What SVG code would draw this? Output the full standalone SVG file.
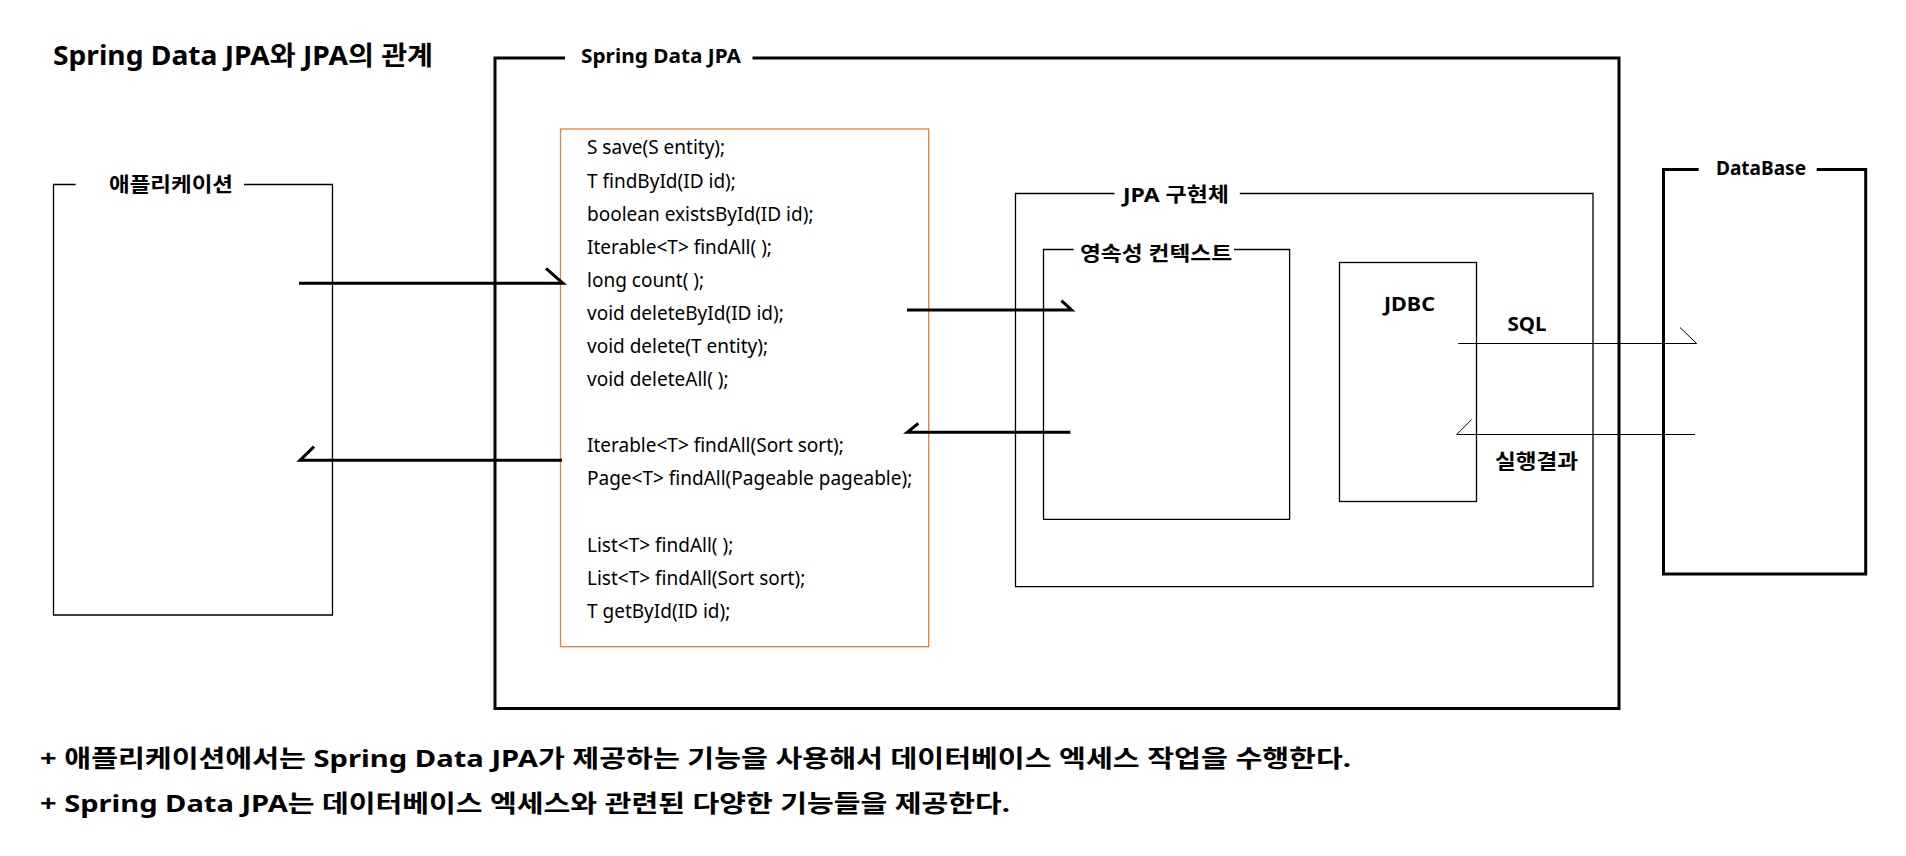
<svg xmlns="http://www.w3.org/2000/svg" width="1906" height="856" viewBox="0 0 1906 856">
<style>
text{font-family:"Noto Sans","Noto Sans CJK KR",sans-serif;fill:#000}
.b{font-weight:bold}
.lbl{font-size:20px;font-weight:bold}
.m{font-size:19px}
.thin{fill:none;stroke:#000;stroke-width:1.3}
.thick{fill:none;stroke:#000;stroke-width:3}
.arr{fill:none;stroke:#000;stroke-width:3}
.arr1{fill:none;stroke:#000;stroke-width:1}
</style>
<rect width="1906" height="856" fill="#fff"/>
<text id="title" x="53" y="65" class="b" font-size="26" textLength="380" lengthAdjust="spacingAndGlyphs">Spring Data JPA와 JPA의 관계</text>

<g id="spring-data-jpa">
<path class="thick" d="M565,58 H495 V708.5 H1619 V58 H752.5"/>
<text x="581" y="63" class="b" font-size="19" textLength="160" lengthAdjust="spacingAndGlyphs">Spring Data JPA</text>
</g>

<g id="application">
<path class="thin" d="M75.7,184.5 H53.5 V615 H332.5 V184.5 H244"/>
<text x="109" y="192" class="lbl" textLength="124" lengthAdjust="spacingAndGlyphs">애플리케이션</text>
</g>

<g id="repository-methods">
<rect x="560.5" y="129" width="368.2" height="517.7" fill="none" stroke="#ED7D31" stroke-width="1.3"/>
<text class="m" x="587" y="154.4">S save(S entity);</text>
<text class="m" x="587" y="187.5">T findById(ID id);</text>
<text class="m" x="587" y="220.6">boolean existsById(ID id);</text>
<text class="m" x="587" y="253.7">Iterable&lt;T&gt; findAll( );</text>
<text class="m" x="587" y="286.8">long count( );</text>
<text class="m" x="587" y="319.9">void deleteById(ID id);</text>
<text class="m" x="587" y="353">void delete(T entity);</text>
<text class="m" x="587" y="386.1">void deleteAll( );</text>
<text class="m" x="587" y="452.3">Iterable&lt;T&gt; findAll(Sort sort);</text>
<text class="m" x="587" y="485.4">Page&lt;T&gt; findAll(Pageable pageable);</text>
<text class="m" x="587" y="551.6">List&lt;T&gt; findAll( );</text>
<text class="m" x="587" y="584.7">List&lt;T&gt; findAll(Sort sort);</text>
<text class="m" x="587" y="617.8">T getById(ID id);</text>
</g>

<g id="jpa-impl">
<path class="thin" d="M1114.5,193.5 H1015.5 V586.7 H1593 V193.5 H1239.8"/>
<text x="1123" y="202" class="lbl" textLength="106" lengthAdjust="spacingAndGlyphs">JPA 구현체</text>
</g>

<g id="persistence-context">
<path class="thin" d="M1073.7,249.5 H1043.5 V519.3 H1289.6 V249.5 H1234"/>
<text x="1080" y="261" class="lbl" textLength="152" lengthAdjust="spacingAndGlyphs">영속성 컨텍스트</text>
</g>

<g id="jdbc">
<rect class="thin" x="1339.5" y="262.5" width="137" height="239"/>
<text x="1384" y="311" class="lbl" textLength="51" lengthAdjust="spacingAndGlyphs">JDBC</text>
</g>

<g id="database">
<path class="thick" d="M1698.7,169.5 H1663.5 V574 H1865.7 V169.5 H1816.7"/>
<text x="1716" y="175" class="lbl" textLength="90" lengthAdjust="spacingAndGlyphs">DataBase</text>
</g>

<g id="connectors">
<path class="arr" d="M299,283.3 H563 L546,268.3"/>
<path class="arr" d="M562,460.3 H300 L314,446.7"/>
<path class="arr" d="M907,310 H1071.6 L1061.4,300.7"/>
<path class="arr" d="M1070.4,432.3 H907.3 L918.3,423.4"/>
<path class="arr1" d="M1458.3,343.5 H1696.7 L1680,327.5"/>
<path class="arr1" d="M1695,434.5 H1456.7 L1471.7,419.5"/>
<text x="1507.5" y="331" class="lbl" textLength="39" lengthAdjust="spacingAndGlyphs">SQL</text>
<text x="1495" y="469" class="lbl" textLength="83" lengthAdjust="spacingAndGlyphs">실행결과</text>
</g>

<g id="notes">
<text x="40" y="767" class="b" font-size="24" textLength="1311" lengthAdjust="spacingAndGlyphs">+ 애플리케이션에서는 Spring Data JPA가 제공하는 기능을 사용해서 데이터베이스 엑세스 작업을 수행한다.</text>
<text x="40" y="812" class="b" font-size="24" textLength="970" lengthAdjust="spacingAndGlyphs">+ Spring Data JPA는 데이터베이스 엑세스와 관련된 다양한 기능들을 제공한다.</text>
</g>
</svg>
